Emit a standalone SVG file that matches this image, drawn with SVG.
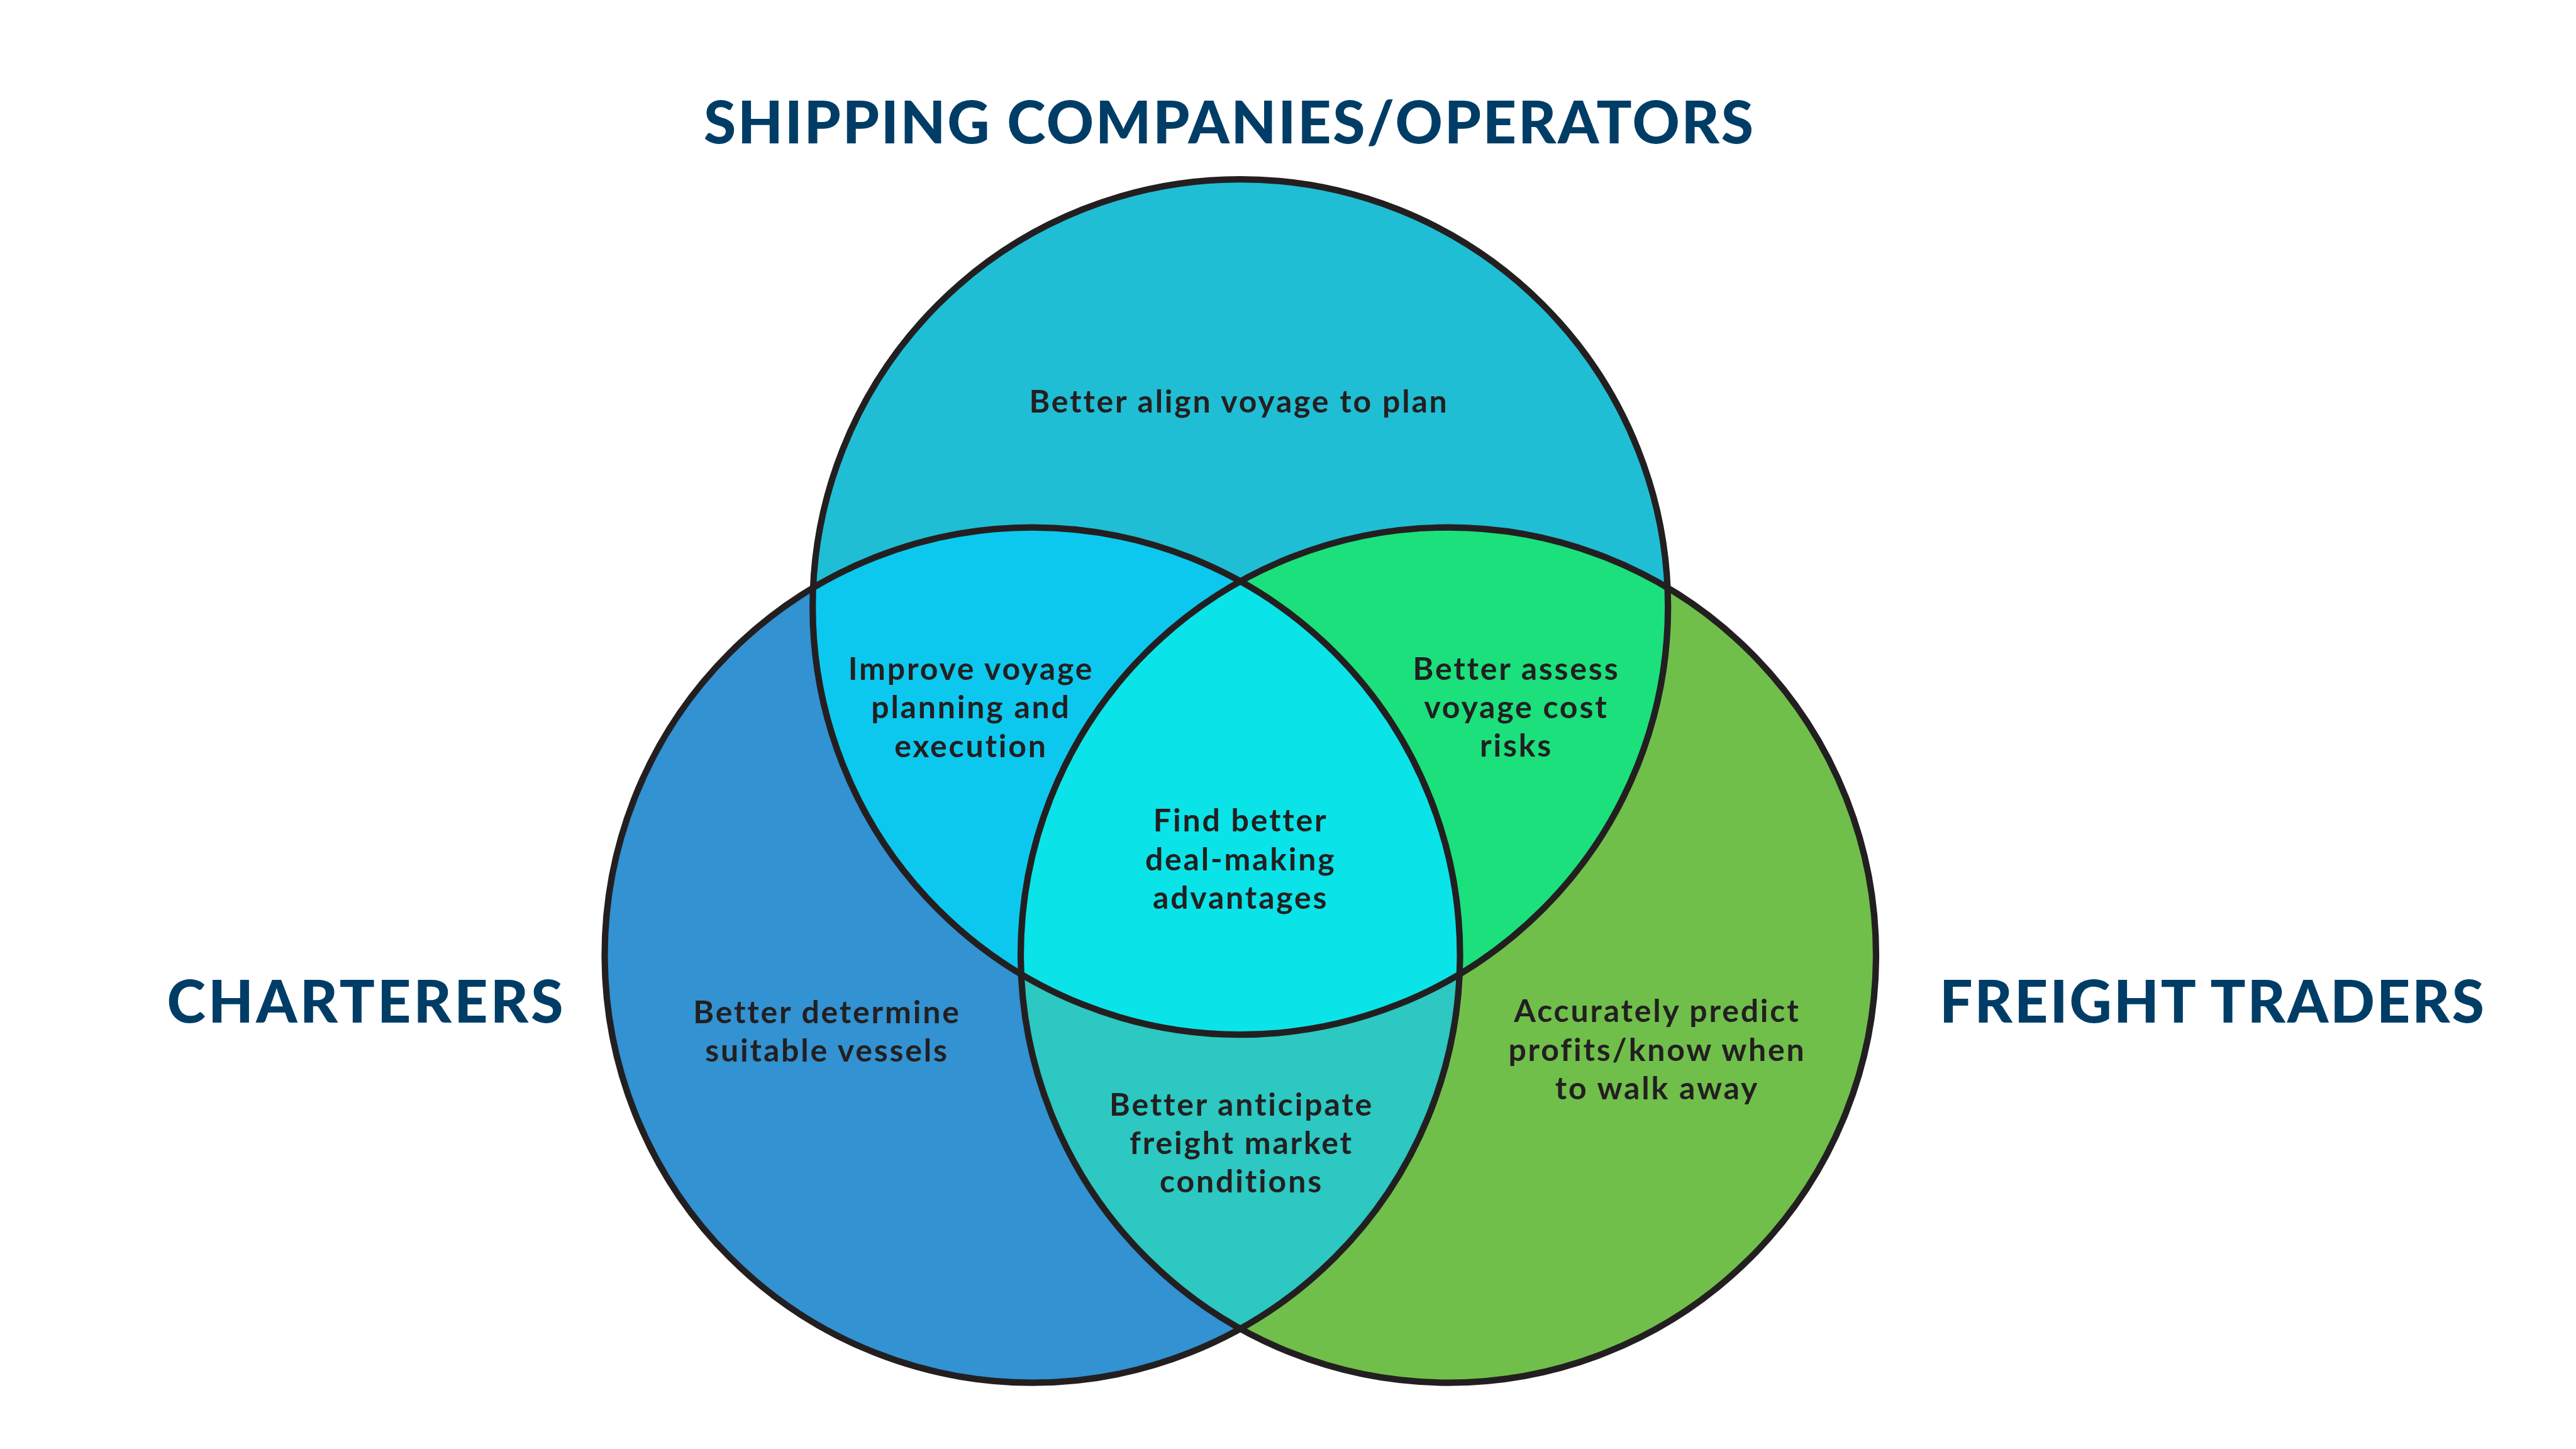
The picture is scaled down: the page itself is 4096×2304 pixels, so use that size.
<svg xmlns="http://www.w3.org/2000/svg" width="4096" height="2304" viewBox="0 0 4096 2304">
<style>
.title{font-family:Lato,"Liberation Sans",sans-serif;font-weight:900;font-size:93px;fill:#003D66;text-anchor:middle}
.lbl{font-family:Lato,"Liberation Sans",sans-serif;font-weight:700;font-size:50px;letter-spacing:2.8px;fill:#231F20;text-anchor:middle}
.ring{fill:none;stroke:#231F20;stroke-width:10.2}
</style>
<defs>
<clipPath id="clipT"><circle cx="1972.2" cy="965.1" r="680"/></clipPath>
<clipPath id="clipL"><circle cx="1641.5" cy="1518.6" r="680"/></clipPath>
<clipPath id="clipR"><circle cx="2303" cy="1518.6" r="680"/></clipPath>
</defs>
<rect width="4096" height="2304" fill="#FFFFFF"/>
<g id="fills">
<circle cx="1972.2" cy="965.1" r="680" fill="#20BED4"/>
<circle cx="1641.5" cy="1518.6" r="680" fill="#3292D2"/>
<circle cx="2303" cy="1518.6" r="680" fill="#70BF4B"/>
<circle cx="1641.5" cy="1518.6" r="680" fill="#0DC8EE" clip-path="url(#clipT)"/>
<circle cx="2303" cy="1518.6" r="680" fill="#1BE07C" clip-path="url(#clipT)"/>
<circle cx="2303" cy="1518.6" r="680" fill="#2CC8C1" clip-path="url(#clipL)"/>
<g clip-path="url(#clipR)"><circle cx="1641.5" cy="1518.6" r="680" fill="#0AE4E8" clip-path="url(#clipT)"/></g>
</g>
<g id="outlines">
<circle class="ring" cx="1972.2" cy="965.1" r="680"/>
<circle class="ring" cx="1641.5" cy="1518.6" r="680"/>
<circle class="ring" cx="2303" cy="1518.6" r="680"/>
</g>
<g id="shipping">
<text class="title" x="1953.5" y="228" textLength="1669">SHIPPING COMPANIES/OPERATORS</text>
<text class="lbl" x="1970" y="656">Better align voyage to plan</text>
</g>
<g id="charterers">
<text class="title" x="580.6" y="1626" textLength="630">CHARTERERS</text>
<text class="lbl" x="1315" y="1626.6">Better determine</text>
<text class="lbl" x="1315" y="1688">suitable vessels</text>
</g>
<g id="freight-traders">
<text class="title" x="3517" y="1626" textLength="866">FREIGHT TRADERS</text>
<text class="lbl" x="2635" y="1625">Accurately predict</text>
<text class="lbl" x="2635" y="1687">profits/know when</text>
<text class="lbl" x="2635" y="1748">to walk away</text>
</g>
<g id="shipping-charterers">
<text class="lbl" x="1544" y="1081">Improve voyage</text>
<text class="lbl" x="1544" y="1142">planning and</text>
<text class="lbl" x="1544" y="1204">execution</text>
</g>
<g id="shipping-traders">
<text class="lbl" x="2411" y="1081">Better assess</text>
<text class="lbl" x="2411" y="1142">voyage cost</text>
<text class="lbl" x="2411" y="1203">risks</text>
</g>
<g id="charterers-traders">
<text class="lbl" x="1974" y="1773.6">Better anticipate</text>
<text class="lbl" x="1974" y="1835">freight market</text>
<text class="lbl" x="1974" y="1896">conditions</text>
</g>
<g id="all-three">
<text class="lbl" x="1972.7" y="1322">Find better</text>
<text class="lbl" x="1972.7" y="1384">deal-making</text>
<text class="lbl" x="1972.7" y="1445">advantages</text>
</g>
</svg>
